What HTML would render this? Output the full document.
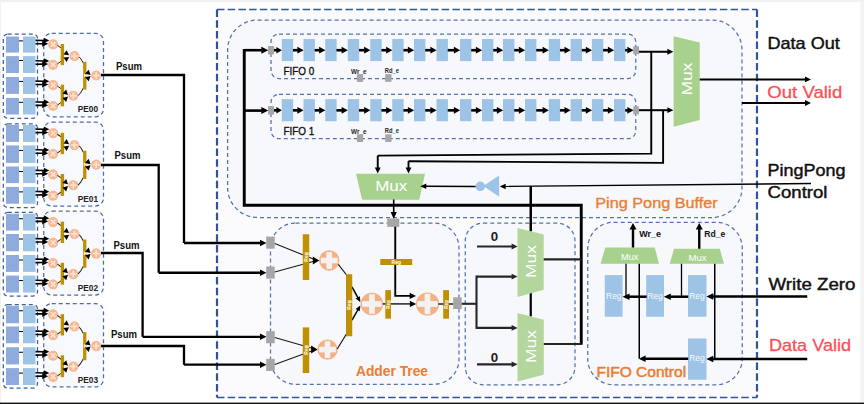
<!DOCTYPE html>
<html><head><meta charset="utf-8"><title>diagram</title>
<style>html,body{margin:0;padding:0;background:#fff;overflow:hidden}svg{display:block}text{font-family:"Liberation Sans",sans-serif}</style>
</head><body>
<svg width="864" height="404" viewBox="0 0 864 404" font-family="Liberation Sans, sans-serif">
<rect x="0" y="0" width="864" height="404" fill="#fff"/>
<rect x="0.00" y="0.00" width="864.00" height="2.20" fill="#f1f1f1" />
<rect x="0.00" y="0.00" width="1.00" height="404.00" fill="#f1f1f1" />
<rect x="860.50" y="0.00" width="3.50" height="404.00" fill="#f3f3f3" />
<rect x="0.00" y="402.60" width="864.00" height="1.40" fill="#111" />
<rect x="217.00" y="9.50" width="540.00" height="388.00" fill="#fbfbfe" />
<path d="M217,9.5 H757 M217,397.5 H757" stroke="#2f5597" stroke-width="1.6" stroke-dasharray="7.5 3.2" fill="none"/>
<path d="M217,9.5 V397.5 M757,9.5 V397.5" stroke="#2f5597" stroke-width="2.2" stroke-dasharray="7.5 3.2" fill="none"/>
<rect x="227.60" y="20.00" width="514.40" height="197.50" rx="30" ry="30" fill="#f7f8fc" stroke="#5472ac" stroke-width="1.25" stroke-dasharray="4 3"/>
<rect x="271.00" y="34.00" width="364.75" height="44.50" rx="8" ry="8" fill="none" stroke="#5472ac" stroke-width="1.25" stroke-dasharray="4 3"/>
<rect x="271.00" y="94.35" width="364.75" height="44.35" rx="8" ry="8" fill="none" stroke="#5472ac" stroke-width="1.25" stroke-dasharray="4 3"/>
<rect x="270.50" y="223.00" width="188.50" height="161.25" rx="25" ry="25" fill="#f7f8fc" stroke="#5472ac" stroke-width="1.25" stroke-dasharray="4 3"/>
<rect x="465.25" y="223.00" width="109.75" height="161.75" rx="18" ry="18" fill="#f7f8fc" stroke="#5472ac" stroke-width="1.25" stroke-dasharray="4 3"/>
<rect x="587.75" y="222.30" width="154.50" height="162.45" rx="26" ry="26" fill="#f7f8fc" stroke="#5472ac" stroke-width="1.25" stroke-dasharray="4 3"/>
<rect x="3.30" y="34.00" width="34.20" height="84.25" rx="4.5" ry="4.5" fill="none" stroke="#3f5f9a" stroke-width="1.25" stroke-dasharray="4 3"/>
<rect x="43.75" y="33.25" width="59.75" height="83.50" rx="8" ry="8" fill="#f8f9fd" stroke="#4a6da7" stroke-width="1.25" stroke-dasharray="4 3"/>
<rect x="6.00" y="36.50" width="13.00" height="16.10" fill="#8faadc" />
<rect x="23.00" y="36.50" width="12.50" height="16.10" fill="#9dc3e6" />
<polyline points="19.00,40.90 23.00,40.90" fill="none" stroke="#000" stroke-width="1" stroke-linejoin="miter" />
<rect x="6.00" y="56.10" width="13.00" height="16.90" fill="#8faadc" />
<rect x="23.00" y="56.10" width="12.50" height="16.90" fill="#9dc3e6" />
<polyline points="19.00,60.50 23.00,60.50" fill="none" stroke="#000" stroke-width="1" stroke-linejoin="miter" />
<rect x="6.00" y="77.00" width="13.00" height="16.90" fill="#8faadc" />
<rect x="23.00" y="77.00" width="12.50" height="16.90" fill="#9dc3e6" />
<polyline points="19.00,81.40 23.00,81.40" fill="none" stroke="#000" stroke-width="1" stroke-linejoin="miter" />
<rect x="6.00" y="97.90" width="13.00" height="16.60" fill="#8faadc" />
<rect x="23.00" y="97.90" width="12.50" height="16.60" fill="#9dc3e6" />
<polyline points="19.00,102.30 23.00,102.30" fill="none" stroke="#000" stroke-width="1" stroke-linejoin="miter" />
<g transform="translate(0 0)">
<polygon points="49.30,40.60 43.76,43.27 43.84,37.77" fill="#000"/>
<polyline points="35.50,40.40 44.30,40.53" fill="none" stroke="#000" stroke-width="1.6" stroke-linejoin="miter" />
<polygon points="48.20,43.70 42.22,46.75 42.18,40.75" fill="#000"/>
<polyline points="35.50,43.80 42.70,43.74" fill="none" stroke="#000" stroke-width="1.6" stroke-linejoin="miter" />
<polygon points="49.30,61.00 43.76,63.67 43.84,58.17" fill="#000"/>
<polyline points="35.50,60.80 44.30,60.93" fill="none" stroke="#000" stroke-width="1.6" stroke-linejoin="miter" />
<polygon points="48.20,64.10 42.22,67.15 42.18,61.15" fill="#000"/>
<polyline points="35.50,64.20 42.70,64.14" fill="none" stroke="#000" stroke-width="1.6" stroke-linejoin="miter" />
<polygon points="49.30,81.30 43.76,83.97 43.84,78.47" fill="#000"/>
<polyline points="35.50,81.10 44.30,81.23" fill="none" stroke="#000" stroke-width="1.6" stroke-linejoin="miter" />
<polygon points="48.20,84.40 42.22,87.45 42.18,81.45" fill="#000"/>
<polyline points="35.50,84.50 42.70,84.44" fill="none" stroke="#000" stroke-width="1.6" stroke-linejoin="miter" />
<polygon points="49.30,102.20 43.76,104.87 43.84,99.37" fill="#000"/>
<polyline points="35.50,102.00 44.30,102.13" fill="none" stroke="#000" stroke-width="1.6" stroke-linejoin="miter" />
<polygon points="48.20,105.30 42.22,108.35 42.18,102.35" fill="#000"/>
<polyline points="35.50,105.40 42.70,105.34" fill="none" stroke="#000" stroke-width="1.6" stroke-linejoin="miter" />
<circle cx="53.10" cy="44.40" r="5.1" fill="#f5ba95"/>
<g transform="rotate(45 53.10 44.40)">
<rect x="49.90" y="43.65" width="6.40" height="1.50" fill="#fbe6d8" />
<rect x="52.35" y="41.20" width="1.50" height="6.40" fill="#fbe6d8" />
</g>
<circle cx="53.10" cy="64.80" r="5.1" fill="#f5ba95"/>
<g transform="rotate(45 53.10 64.80)">
<rect x="49.90" y="64.05" width="6.40" height="1.50" fill="#fbe6d8" />
<rect x="52.35" y="61.60" width="1.50" height="6.40" fill="#fbe6d8" />
</g>
<circle cx="53.10" cy="85.10" r="5.1" fill="#f5ba95"/>
<g transform="rotate(45 53.10 85.10)">
<rect x="49.90" y="84.35" width="6.40" height="1.50" fill="#fbe6d8" />
<rect x="52.35" y="81.90" width="1.50" height="6.40" fill="#fbe6d8" />
</g>
<circle cx="53.10" cy="106.00" r="5.1" fill="#f5ba95"/>
<g transform="rotate(45 53.10 106.00)">
<rect x="49.90" y="105.25" width="6.40" height="1.50" fill="#fbe6d8" />
<rect x="52.35" y="102.80" width="1.50" height="6.40" fill="#fbe6d8" />
</g>
<polyline points="57.50,45.40 61.00,47.90" fill="none" stroke="#222" stroke-width="1" stroke-linejoin="miter" />
<polyline points="57.50,63.80 61.00,61.30" fill="none" stroke="#222" stroke-width="1" stroke-linejoin="miter" />
<rect x="60.70" y="44.00" width="3.40" height="21.10" fill="#bf9000" />
<polygon points="69.10,55.30 63.44,54.59 66.67,50.14" fill="#000"/>
<polygon points="69.10,56.90 66.67,62.06 63.44,57.61" fill="#000"/>
<circle cx="74.40" cy="56.10" r="5.1" fill="#f5ba95"/>
<rect x="71.10" y="55.30" width="6.60" height="1.60" fill="#fbe6d8" />
<rect x="73.60" y="52.80" width="1.60" height="6.60" fill="#fbe6d8" />
<polyline points="57.50,86.10 61.00,88.60" fill="none" stroke="#222" stroke-width="1" stroke-linejoin="miter" />
<polyline points="57.50,105.00 61.00,102.50" fill="none" stroke="#222" stroke-width="1" stroke-linejoin="miter" />
<rect x="60.70" y="84.70" width="3.40" height="21.60" fill="#bf9000" />
<polygon points="68.00,94.95 62.46,93.57 66.20,89.54" fill="#000"/>
<polygon points="68.00,96.55 66.20,101.96 62.46,97.93" fill="#000"/>
<circle cx="73.30" cy="95.75" r="5.1" fill="#f5ba95"/>
<rect x="70.00" y="94.95" width="6.60" height="1.60" fill="#fbe6d8" />
<rect x="72.50" y="92.45" width="1.60" height="6.60" fill="#fbe6d8" />
<polyline points="79.20,57.00 81.00,59.00 83.50,63.50" fill="none" stroke="#222" stroke-width="1" stroke-linejoin="miter" />
<polyline points="78.10,95.70 80.50,93.00 83.50,87.80" fill="none" stroke="#222" stroke-width="1" stroke-linejoin="miter" />
<rect x="83.10" y="61.75" width="3.30" height="27.85" fill="#bf9000" />
<polygon points="90.60,75.00 85.02,73.79 88.63,69.64" fill="#000"/>
<polygon points="90.60,76.00 88.63,81.36 85.02,77.21" fill="#000"/>
<polygon points="83.8,73.2 87,75.4 83.8,77.6" fill="#f2e6c8"/>
<circle cx="96.20" cy="75.50" r="5.1" fill="#f5ba95"/>
<rect x="92.90" y="74.70" width="6.60" height="1.60" fill="#fbe6d8" />
<rect x="95.40" y="72.20" width="1.60" height="6.60" fill="#fbe6d8" />
<text x="77.75" y="112.30" font-size="8.8" fill="#222" font-weight="bold" text-anchor="start" textLength="20.30" lengthAdjust="spacingAndGlyphs" >PE00</text>
</g>
<rect x="3.30" y="123.75" width="34.20" height="83.75" rx="4.5" ry="4.5" fill="none" stroke="#3f5f9a" stroke-width="1.25" stroke-dasharray="4 3"/>
<rect x="43.75" y="122.00" width="59.75" height="84.00" rx="8" ry="8" fill="#f8f9fd" stroke="#4a6da7" stroke-width="1.25" stroke-dasharray="4 3"/>
<rect x="6.00" y="125.00" width="13.00" height="16.90" fill="#8faadc" />
<rect x="23.00" y="125.00" width="12.50" height="16.90" fill="#9dc3e6" />
<polyline points="19.00,130.00 23.00,130.00" fill="none" stroke="#000" stroke-width="1" stroke-linejoin="miter" />
<rect x="6.00" y="145.40" width="13.00" height="17.50" fill="#8faadc" />
<rect x="23.00" y="145.40" width="12.50" height="17.50" fill="#9dc3e6" />
<polyline points="19.00,150.40 23.00,150.40" fill="none" stroke="#000" stroke-width="1" stroke-linejoin="miter" />
<rect x="6.00" y="166.50" width="13.00" height="16.60" fill="#8faadc" />
<rect x="23.00" y="166.50" width="12.50" height="16.60" fill="#9dc3e6" />
<polyline points="19.00,171.50 23.00,171.50" fill="none" stroke="#000" stroke-width="1" stroke-linejoin="miter" />
<rect x="6.00" y="186.90" width="13.00" height="16.85" fill="#8faadc" />
<rect x="23.00" y="186.90" width="12.50" height="16.85" fill="#9dc3e6" />
<polyline points="19.00,191.90 23.00,191.90" fill="none" stroke="#000" stroke-width="1" stroke-linejoin="miter" />
<g transform="translate(0 89.0) translate(0 60) scale(1 1.012) translate(0 -60)">
<polygon points="49.30,40.60 43.76,43.27 43.84,37.77" fill="#000"/>
<polyline points="35.50,40.40 44.30,40.53" fill="none" stroke="#000" stroke-width="1.6" stroke-linejoin="miter" />
<polygon points="48.20,43.70 42.22,46.75 42.18,40.75" fill="#000"/>
<polyline points="35.50,43.80 42.70,43.74" fill="none" stroke="#000" stroke-width="1.6" stroke-linejoin="miter" />
<polygon points="49.30,61.00 43.76,63.67 43.84,58.17" fill="#000"/>
<polyline points="35.50,60.80 44.30,60.93" fill="none" stroke="#000" stroke-width="1.6" stroke-linejoin="miter" />
<polygon points="48.20,64.10 42.22,67.15 42.18,61.15" fill="#000"/>
<polyline points="35.50,64.20 42.70,64.14" fill="none" stroke="#000" stroke-width="1.6" stroke-linejoin="miter" />
<polygon points="49.30,81.30 43.76,83.97 43.84,78.47" fill="#000"/>
<polyline points="35.50,81.10 44.30,81.23" fill="none" stroke="#000" stroke-width="1.6" stroke-linejoin="miter" />
<polygon points="48.20,84.40 42.22,87.45 42.18,81.45" fill="#000"/>
<polyline points="35.50,84.50 42.70,84.44" fill="none" stroke="#000" stroke-width="1.6" stroke-linejoin="miter" />
<polygon points="49.30,102.20 43.76,104.87 43.84,99.37" fill="#000"/>
<polyline points="35.50,102.00 44.30,102.13" fill="none" stroke="#000" stroke-width="1.6" stroke-linejoin="miter" />
<polygon points="48.20,105.30 42.22,108.35 42.18,102.35" fill="#000"/>
<polyline points="35.50,105.40 42.70,105.34" fill="none" stroke="#000" stroke-width="1.6" stroke-linejoin="miter" />
<circle cx="53.10" cy="44.40" r="5.1" fill="#f5ba95"/>
<g transform="rotate(45 53.10 44.40)">
<rect x="49.90" y="43.65" width="6.40" height="1.50" fill="#fbe6d8" />
<rect x="52.35" y="41.20" width="1.50" height="6.40" fill="#fbe6d8" />
</g>
<circle cx="53.10" cy="64.80" r="5.1" fill="#f5ba95"/>
<g transform="rotate(45 53.10 64.80)">
<rect x="49.90" y="64.05" width="6.40" height="1.50" fill="#fbe6d8" />
<rect x="52.35" y="61.60" width="1.50" height="6.40" fill="#fbe6d8" />
</g>
<circle cx="53.10" cy="85.10" r="5.1" fill="#f5ba95"/>
<g transform="rotate(45 53.10 85.10)">
<rect x="49.90" y="84.35" width="6.40" height="1.50" fill="#fbe6d8" />
<rect x="52.35" y="81.90" width="1.50" height="6.40" fill="#fbe6d8" />
</g>
<circle cx="53.10" cy="106.00" r="5.1" fill="#f5ba95"/>
<g transform="rotate(45 53.10 106.00)">
<rect x="49.90" y="105.25" width="6.40" height="1.50" fill="#fbe6d8" />
<rect x="52.35" y="102.80" width="1.50" height="6.40" fill="#fbe6d8" />
</g>
<polyline points="57.50,45.40 61.00,47.90" fill="none" stroke="#222" stroke-width="1" stroke-linejoin="miter" />
<polyline points="57.50,63.80 61.00,61.30" fill="none" stroke="#222" stroke-width="1" stroke-linejoin="miter" />
<rect x="60.70" y="44.00" width="3.40" height="21.10" fill="#bf9000" />
<polygon points="69.10,55.30 63.44,54.59 66.67,50.14" fill="#000"/>
<polygon points="69.10,56.90 66.67,62.06 63.44,57.61" fill="#000"/>
<circle cx="74.40" cy="56.10" r="5.1" fill="#f5ba95"/>
<rect x="71.10" y="55.30" width="6.60" height="1.60" fill="#fbe6d8" />
<rect x="73.60" y="52.80" width="1.60" height="6.60" fill="#fbe6d8" />
<polyline points="57.50,86.10 61.00,88.60" fill="none" stroke="#222" stroke-width="1" stroke-linejoin="miter" />
<polyline points="57.50,105.00 61.00,102.50" fill="none" stroke="#222" stroke-width="1" stroke-linejoin="miter" />
<rect x="60.70" y="84.70" width="3.40" height="21.60" fill="#bf9000" />
<polygon points="68.00,94.95 62.46,93.57 66.20,89.54" fill="#000"/>
<polygon points="68.00,96.55 66.20,101.96 62.46,97.93" fill="#000"/>
<circle cx="73.30" cy="95.75" r="5.1" fill="#f5ba95"/>
<rect x="70.00" y="94.95" width="6.60" height="1.60" fill="#fbe6d8" />
<rect x="72.50" y="92.45" width="1.60" height="6.60" fill="#fbe6d8" />
<polyline points="79.20,57.00 81.00,59.00 83.50,63.50" fill="none" stroke="#222" stroke-width="1" stroke-linejoin="miter" />
<polyline points="78.10,95.70 80.50,93.00 83.50,87.80" fill="none" stroke="#222" stroke-width="1" stroke-linejoin="miter" />
<rect x="83.10" y="61.75" width="3.30" height="27.85" fill="#bf9000" />
<polygon points="90.60,75.00 85.02,73.79 88.63,69.64" fill="#000"/>
<polygon points="90.60,76.00 88.63,81.36 85.02,77.21" fill="#000"/>
<polygon points="83.8,73.2 87,75.4 83.8,77.6" fill="#f2e6c8"/>
<circle cx="96.20" cy="75.50" r="5.1" fill="#f5ba95"/>
<rect x="92.90" y="74.70" width="6.60" height="1.60" fill="#fbe6d8" />
<rect x="95.40" y="72.20" width="1.60" height="6.60" fill="#fbe6d8" />
<text x="77.75" y="112.30" font-size="8.8" fill="#222" font-weight="bold" text-anchor="start" textLength="20.30" lengthAdjust="spacingAndGlyphs" >PE01</text>
</g>
<rect x="3.30" y="212.25" width="34.20" height="83.75" rx="4.5" ry="4.5" fill="none" stroke="#3f5f9a" stroke-width="1.25" stroke-dasharray="4 3"/>
<rect x="43.75" y="211.00" width="59.75" height="84.00" rx="8" ry="8" fill="#f8f9fd" stroke="#4a6da7" stroke-width="1.25" stroke-dasharray="4 3"/>
<rect x="6.00" y="213.75" width="13.00" height="16.85" fill="#8faadc" />
<rect x="23.00" y="213.75" width="12.50" height="16.85" fill="#9dc3e6" />
<polyline points="19.00,218.75 23.00,218.75" fill="none" stroke="#000" stroke-width="1" stroke-linejoin="miter" />
<rect x="6.00" y="234.00" width="13.00" height="17.25" fill="#8faadc" />
<rect x="23.00" y="234.00" width="12.50" height="17.25" fill="#9dc3e6" />
<polyline points="19.00,239.00 23.00,239.00" fill="none" stroke="#000" stroke-width="1" stroke-linejoin="miter" />
<rect x="6.00" y="255.00" width="13.00" height="16.90" fill="#8faadc" />
<rect x="23.00" y="255.00" width="12.50" height="16.90" fill="#9dc3e6" />
<polyline points="19.00,260.00 23.00,260.00" fill="none" stroke="#000" stroke-width="1" stroke-linejoin="miter" />
<rect x="6.00" y="275.60" width="13.00" height="16.90" fill="#8faadc" />
<rect x="23.00" y="275.60" width="12.50" height="16.90" fill="#9dc3e6" />
<polyline points="19.00,280.60 23.00,280.60" fill="none" stroke="#000" stroke-width="1" stroke-linejoin="miter" />
<g transform="translate(0 177.8) translate(0 60) scale(1 1.012) translate(0 -60)">
<polygon points="49.30,40.60 43.76,43.27 43.84,37.77" fill="#000"/>
<polyline points="35.50,40.40 44.30,40.53" fill="none" stroke="#000" stroke-width="1.6" stroke-linejoin="miter" />
<polygon points="48.20,43.70 42.22,46.75 42.18,40.75" fill="#000"/>
<polyline points="35.50,43.80 42.70,43.74" fill="none" stroke="#000" stroke-width="1.6" stroke-linejoin="miter" />
<polygon points="49.30,61.00 43.76,63.67 43.84,58.17" fill="#000"/>
<polyline points="35.50,60.80 44.30,60.93" fill="none" stroke="#000" stroke-width="1.6" stroke-linejoin="miter" />
<polygon points="48.20,64.10 42.22,67.15 42.18,61.15" fill="#000"/>
<polyline points="35.50,64.20 42.70,64.14" fill="none" stroke="#000" stroke-width="1.6" stroke-linejoin="miter" />
<polygon points="49.30,81.30 43.76,83.97 43.84,78.47" fill="#000"/>
<polyline points="35.50,81.10 44.30,81.23" fill="none" stroke="#000" stroke-width="1.6" stroke-linejoin="miter" />
<polygon points="48.20,84.40 42.22,87.45 42.18,81.45" fill="#000"/>
<polyline points="35.50,84.50 42.70,84.44" fill="none" stroke="#000" stroke-width="1.6" stroke-linejoin="miter" />
<polygon points="49.30,102.20 43.76,104.87 43.84,99.37" fill="#000"/>
<polyline points="35.50,102.00 44.30,102.13" fill="none" stroke="#000" stroke-width="1.6" stroke-linejoin="miter" />
<polygon points="48.20,105.30 42.22,108.35 42.18,102.35" fill="#000"/>
<polyline points="35.50,105.40 42.70,105.34" fill="none" stroke="#000" stroke-width="1.6" stroke-linejoin="miter" />
<circle cx="53.10" cy="44.40" r="5.1" fill="#f5ba95"/>
<g transform="rotate(45 53.10 44.40)">
<rect x="49.90" y="43.65" width="6.40" height="1.50" fill="#fbe6d8" />
<rect x="52.35" y="41.20" width="1.50" height="6.40" fill="#fbe6d8" />
</g>
<circle cx="53.10" cy="64.80" r="5.1" fill="#f5ba95"/>
<g transform="rotate(45 53.10 64.80)">
<rect x="49.90" y="64.05" width="6.40" height="1.50" fill="#fbe6d8" />
<rect x="52.35" y="61.60" width="1.50" height="6.40" fill="#fbe6d8" />
</g>
<circle cx="53.10" cy="85.10" r="5.1" fill="#f5ba95"/>
<g transform="rotate(45 53.10 85.10)">
<rect x="49.90" y="84.35" width="6.40" height="1.50" fill="#fbe6d8" />
<rect x="52.35" y="81.90" width="1.50" height="6.40" fill="#fbe6d8" />
</g>
<circle cx="53.10" cy="106.00" r="5.1" fill="#f5ba95"/>
<g transform="rotate(45 53.10 106.00)">
<rect x="49.90" y="105.25" width="6.40" height="1.50" fill="#fbe6d8" />
<rect x="52.35" y="102.80" width="1.50" height="6.40" fill="#fbe6d8" />
</g>
<polyline points="57.50,45.40 61.00,47.90" fill="none" stroke="#222" stroke-width="1" stroke-linejoin="miter" />
<polyline points="57.50,63.80 61.00,61.30" fill="none" stroke="#222" stroke-width="1" stroke-linejoin="miter" />
<rect x="60.70" y="44.00" width="3.40" height="21.10" fill="#bf9000" />
<polygon points="69.10,55.30 63.44,54.59 66.67,50.14" fill="#000"/>
<polygon points="69.10,56.90 66.67,62.06 63.44,57.61" fill="#000"/>
<circle cx="74.40" cy="56.10" r="5.1" fill="#f5ba95"/>
<rect x="71.10" y="55.30" width="6.60" height="1.60" fill="#fbe6d8" />
<rect x="73.60" y="52.80" width="1.60" height="6.60" fill="#fbe6d8" />
<polyline points="57.50,86.10 61.00,88.60" fill="none" stroke="#222" stroke-width="1" stroke-linejoin="miter" />
<polyline points="57.50,105.00 61.00,102.50" fill="none" stroke="#222" stroke-width="1" stroke-linejoin="miter" />
<rect x="60.70" y="84.70" width="3.40" height="21.60" fill="#bf9000" />
<polygon points="68.00,94.95 62.46,93.57 66.20,89.54" fill="#000"/>
<polygon points="68.00,96.55 66.20,101.96 62.46,97.93" fill="#000"/>
<circle cx="73.30" cy="95.75" r="5.1" fill="#f5ba95"/>
<rect x="70.00" y="94.95" width="6.60" height="1.60" fill="#fbe6d8" />
<rect x="72.50" y="92.45" width="1.60" height="6.60" fill="#fbe6d8" />
<polyline points="79.20,57.00 81.00,59.00 83.50,63.50" fill="none" stroke="#222" stroke-width="1" stroke-linejoin="miter" />
<polyline points="78.10,95.70 80.50,93.00 83.50,87.80" fill="none" stroke="#222" stroke-width="1" stroke-linejoin="miter" />
<rect x="83.10" y="61.75" width="3.30" height="27.85" fill="#bf9000" />
<polygon points="90.60,75.00 85.02,73.79 88.63,69.64" fill="#000"/>
<polygon points="90.60,76.00 88.63,81.36 85.02,77.21" fill="#000"/>
<polygon points="83.8,73.2 87,75.4 83.8,77.6" fill="#f2e6c8"/>
<circle cx="96.20" cy="75.50" r="5.1" fill="#f5ba95"/>
<rect x="92.90" y="74.70" width="6.60" height="1.60" fill="#fbe6d8" />
<rect x="95.40" y="72.20" width="1.60" height="6.60" fill="#fbe6d8" />
<text x="77.75" y="112.30" font-size="8.8" fill="#222" font-weight="bold" text-anchor="start" textLength="20.30" lengthAdjust="spacingAndGlyphs" >PE02</text>
</g>
<rect x="3.30" y="304.50" width="34.20" height="83.60" rx="4.5" ry="4.5" fill="none" stroke="#3f5f9a" stroke-width="1.25" stroke-dasharray="4 3"/>
<rect x="43.75" y="303.60" width="59.75" height="83.30" rx="8" ry="8" fill="#f8f9fd" stroke="#4a6da7" stroke-width="1.25" stroke-dasharray="4 3"/>
<rect x="6.00" y="305.75" width="13.00" height="17.50" fill="#8faadc" />
<rect x="23.00" y="305.75" width="12.50" height="17.50" fill="#9dc3e6" />
<polyline points="19.00,310.75 23.00,310.75" fill="none" stroke="#000" stroke-width="1" stroke-linejoin="miter" />
<rect x="6.00" y="326.50" width="13.00" height="16.75" fill="#8faadc" />
<rect x="23.00" y="326.50" width="12.50" height="16.75" fill="#9dc3e6" />
<polyline points="19.00,331.50 23.00,331.50" fill="none" stroke="#000" stroke-width="1" stroke-linejoin="miter" />
<rect x="6.00" y="347.25" width="13.00" height="17.15" fill="#8faadc" />
<rect x="23.00" y="347.25" width="12.50" height="17.15" fill="#9dc3e6" />
<polyline points="19.00,352.25 23.00,352.25" fill="none" stroke="#000" stroke-width="1" stroke-linejoin="miter" />
<rect x="6.00" y="368.10" width="13.00" height="16.90" fill="#8faadc" />
<rect x="23.00" y="368.10" width="12.50" height="16.90" fill="#9dc3e6" />
<polyline points="19.00,373.10 23.00,373.10" fill="none" stroke="#000" stroke-width="1" stroke-linejoin="miter" />
<g transform="translate(0 270.3) translate(0 60) scale(1 1.012) translate(0 -60)">
<polygon points="49.30,40.60 43.76,43.27 43.84,37.77" fill="#000"/>
<polyline points="35.50,40.40 44.30,40.53" fill="none" stroke="#000" stroke-width="1.6" stroke-linejoin="miter" />
<polygon points="48.20,43.70 42.22,46.75 42.18,40.75" fill="#000"/>
<polyline points="35.50,43.80 42.70,43.74" fill="none" stroke="#000" stroke-width="1.6" stroke-linejoin="miter" />
<polygon points="49.30,61.00 43.76,63.67 43.84,58.17" fill="#000"/>
<polyline points="35.50,60.80 44.30,60.93" fill="none" stroke="#000" stroke-width="1.6" stroke-linejoin="miter" />
<polygon points="48.20,64.10 42.22,67.15 42.18,61.15" fill="#000"/>
<polyline points="35.50,64.20 42.70,64.14" fill="none" stroke="#000" stroke-width="1.6" stroke-linejoin="miter" />
<polygon points="49.30,81.30 43.76,83.97 43.84,78.47" fill="#000"/>
<polyline points="35.50,81.10 44.30,81.23" fill="none" stroke="#000" stroke-width="1.6" stroke-linejoin="miter" />
<polygon points="48.20,84.40 42.22,87.45 42.18,81.45" fill="#000"/>
<polyline points="35.50,84.50 42.70,84.44" fill="none" stroke="#000" stroke-width="1.6" stroke-linejoin="miter" />
<polygon points="49.30,102.20 43.76,104.87 43.84,99.37" fill="#000"/>
<polyline points="35.50,102.00 44.30,102.13" fill="none" stroke="#000" stroke-width="1.6" stroke-linejoin="miter" />
<polygon points="48.20,105.30 42.22,108.35 42.18,102.35" fill="#000"/>
<polyline points="35.50,105.40 42.70,105.34" fill="none" stroke="#000" stroke-width="1.6" stroke-linejoin="miter" />
<circle cx="53.10" cy="44.40" r="5.1" fill="#f5ba95"/>
<g transform="rotate(45 53.10 44.40)">
<rect x="49.90" y="43.65" width="6.40" height="1.50" fill="#fbe6d8" />
<rect x="52.35" y="41.20" width="1.50" height="6.40" fill="#fbe6d8" />
</g>
<circle cx="53.10" cy="64.80" r="5.1" fill="#f5ba95"/>
<g transform="rotate(45 53.10 64.80)">
<rect x="49.90" y="64.05" width="6.40" height="1.50" fill="#fbe6d8" />
<rect x="52.35" y="61.60" width="1.50" height="6.40" fill="#fbe6d8" />
</g>
<circle cx="53.10" cy="85.10" r="5.1" fill="#f5ba95"/>
<g transform="rotate(45 53.10 85.10)">
<rect x="49.90" y="84.35" width="6.40" height="1.50" fill="#fbe6d8" />
<rect x="52.35" y="81.90" width="1.50" height="6.40" fill="#fbe6d8" />
</g>
<circle cx="53.10" cy="106.00" r="5.1" fill="#f5ba95"/>
<g transform="rotate(45 53.10 106.00)">
<rect x="49.90" y="105.25" width="6.40" height="1.50" fill="#fbe6d8" />
<rect x="52.35" y="102.80" width="1.50" height="6.40" fill="#fbe6d8" />
</g>
<polyline points="57.50,45.40 61.00,47.90" fill="none" stroke="#222" stroke-width="1" stroke-linejoin="miter" />
<polyline points="57.50,63.80 61.00,61.30" fill="none" stroke="#222" stroke-width="1" stroke-linejoin="miter" />
<rect x="60.70" y="44.00" width="3.40" height="21.10" fill="#bf9000" />
<polygon points="69.10,55.30 63.44,54.59 66.67,50.14" fill="#000"/>
<polygon points="69.10,56.90 66.67,62.06 63.44,57.61" fill="#000"/>
<circle cx="74.40" cy="56.10" r="5.1" fill="#f5ba95"/>
<rect x="71.10" y="55.30" width="6.60" height="1.60" fill="#fbe6d8" />
<rect x="73.60" y="52.80" width="1.60" height="6.60" fill="#fbe6d8" />
<polyline points="57.50,86.10 61.00,88.60" fill="none" stroke="#222" stroke-width="1" stroke-linejoin="miter" />
<polyline points="57.50,105.00 61.00,102.50" fill="none" stroke="#222" stroke-width="1" stroke-linejoin="miter" />
<rect x="60.70" y="84.70" width="3.40" height="21.60" fill="#bf9000" />
<polygon points="68.00,94.95 62.46,93.57 66.20,89.54" fill="#000"/>
<polygon points="68.00,96.55 66.20,101.96 62.46,97.93" fill="#000"/>
<circle cx="73.30" cy="95.75" r="5.1" fill="#f5ba95"/>
<rect x="70.00" y="94.95" width="6.60" height="1.60" fill="#fbe6d8" />
<rect x="72.50" y="92.45" width="1.60" height="6.60" fill="#fbe6d8" />
<polyline points="79.20,57.00 81.00,59.00 83.50,63.50" fill="none" stroke="#222" stroke-width="1" stroke-linejoin="miter" />
<polyline points="78.10,95.70 80.50,93.00 83.50,87.80" fill="none" stroke="#222" stroke-width="1" stroke-linejoin="miter" />
<rect x="83.10" y="61.75" width="3.30" height="27.85" fill="#bf9000" />
<polygon points="90.60,75.00 85.02,73.79 88.63,69.64" fill="#000"/>
<polygon points="90.60,76.00 88.63,81.36 85.02,77.21" fill="#000"/>
<polygon points="83.8,73.2 87,75.4 83.8,77.6" fill="#f2e6c8"/>
<circle cx="96.20" cy="75.50" r="5.1" fill="#f5ba95"/>
<rect x="92.90" y="74.70" width="6.60" height="1.60" fill="#fbe6d8" />
<rect x="95.40" y="72.20" width="1.60" height="6.60" fill="#fbe6d8" />
<text x="77.75" y="112.30" font-size="8.8" fill="#222" font-weight="bold" text-anchor="start" textLength="20.30" lengthAdjust="spacingAndGlyphs" >PE03</text>
</g>
<polyline points="101.00,75.00 184.00,75.00 184.00,243.00" fill="none" stroke="#000" stroke-width="2.3" stroke-linejoin="miter" />
<polygon points="266.50,243.00 260.00,246.25 260.00,239.75" fill="#000"/>
<polyline points="184.00,243.00 260.50,243.00" fill="none" stroke="#000" stroke-width="2.3" stroke-linejoin="miter" />
<polyline points="101.00,165.00 158.70,165.00 158.70,272.75" fill="none" stroke="#000" stroke-width="2.3" stroke-linejoin="miter" />
<polygon points="266.50,272.75 260.00,276.00 260.00,269.50" fill="#000"/>
<polyline points="158.70,272.75 260.50,272.75" fill="none" stroke="#000" stroke-width="2.3" stroke-linejoin="miter" />
<polyline points="101.00,253.00 142.60,253.00 142.60,336.80" fill="none" stroke="#000" stroke-width="2.3" stroke-linejoin="miter" />
<polygon points="266.50,336.80 260.00,340.05 260.00,333.55" fill="#000"/>
<polyline points="142.60,336.80 260.50,336.80" fill="none" stroke="#000" stroke-width="2.3" stroke-linejoin="miter" />
<polyline points="101.00,346.00 184.00,346.00 184.00,364.70" fill="none" stroke="#000" stroke-width="2.3" stroke-linejoin="miter" />
<polygon points="266.50,364.70 260.00,367.95 260.00,361.45" fill="#000"/>
<polyline points="184.00,364.70 260.50,364.70" fill="none" stroke="#000" stroke-width="2.3" stroke-linejoin="miter" />
<text x="116.00" y="69.80" font-size="10.6" fill="#111" font-weight="bold" text-anchor="start" textLength="26.00" lengthAdjust="spacingAndGlyphs" >Psum</text>
<text x="114.50" y="159.30" font-size="10.6" fill="#111" font-weight="bold" text-anchor="start" textLength="26.00" lengthAdjust="spacingAndGlyphs" >Psum</text>
<text x="113.50" y="248.50" font-size="10.6" fill="#111" font-weight="bold" text-anchor="start" textLength="26.00" lengthAdjust="spacingAndGlyphs" >Psum</text>
<text x="111.00" y="337.80" font-size="10.6" fill="#111" font-weight="bold" text-anchor="start" textLength="26.00" lengthAdjust="spacingAndGlyphs" >Psum</text>
<polyline points="581.25,344.70 581.25,205.30 244.25,205.30 244.25,49.00" fill="none" stroke="#000" stroke-width="2.9" stroke-linejoin="miter" />
<polygon points="268.30,50.20 261.30,53.70 261.30,46.70" fill="#000"/>
<polyline points="244.25,50.20 261.80,50.20" fill="none" stroke="#000" stroke-width="2.6" stroke-linejoin="miter" />
<polygon points="268.30,110.60 261.30,114.10 261.30,107.10" fill="#000"/>
<polyline points="244.25,110.60 261.80,110.60" fill="none" stroke="#000" stroke-width="2.6" stroke-linejoin="miter" />
<rect x="268.00" y="46.00" width="6.00" height="8.50" fill="#a6a6a6" />
<rect x="633.25" y="46.25" width="5.75" height="8.00" fill="#a6a6a6" />
<polygon points="281.90,50.20 276.40,53.45 276.40,46.95" fill="#000"/>
<polyline points="274.00,50.20 276.90,50.20" fill="none" stroke="#000" stroke-width="2.6" stroke-linejoin="miter" />
<rect x="281.75" y="39.00" width="11.40" height="22.10" fill="#9dc3e6" />
<polygon points="303.70,50.20 297.40,53.60 297.40,46.80" fill="#000"/>
<polyline points="292.95,50.20 297.90,50.20" fill="none" stroke="#000" stroke-width="2.6" stroke-linejoin="miter" />
<rect x="303.50" y="39.00" width="11.40" height="22.10" fill="#9dc3e6" />
<polygon points="325.45,50.20 319.15,53.60 319.15,46.80" fill="#000"/>
<polyline points="314.70,50.20 319.65,50.20" fill="none" stroke="#000" stroke-width="2.6" stroke-linejoin="miter" />
<rect x="325.25" y="39.00" width="11.40" height="22.10" fill="#9dc3e6" />
<polygon points="347.95,50.20 341.65,53.60 341.65,46.80" fill="#000"/>
<polyline points="336.45,50.20 342.15,50.20" fill="none" stroke="#000" stroke-width="2.6" stroke-linejoin="miter" />
<rect x="347.75" y="39.00" width="11.40" height="22.10" fill="#9dc3e6" />
<polygon points="370.45,50.20 364.15,53.60 364.15,46.80" fill="#000"/>
<polyline points="358.95,50.20 364.65,50.20" fill="none" stroke="#000" stroke-width="2.6" stroke-linejoin="miter" />
<rect x="370.25" y="39.00" width="11.40" height="22.10" fill="#9dc3e6" />
<polygon points="392.45,50.20 386.15,53.60 386.15,46.80" fill="#000"/>
<polyline points="381.45,50.20 386.65,50.20" fill="none" stroke="#000" stroke-width="2.6" stroke-linejoin="miter" />
<rect x="392.25" y="39.00" width="11.40" height="22.10" fill="#9dc3e6" />
<polygon points="414.20,50.20 407.90,53.60 407.90,46.80" fill="#000"/>
<polyline points="403.45,50.20 408.40,50.20" fill="none" stroke="#000" stroke-width="2.6" stroke-linejoin="miter" />
<rect x="414.00" y="39.00" width="11.40" height="22.10" fill="#9dc3e6" />
<polygon points="436.70,50.20 430.40,53.60 430.40,46.80" fill="#000"/>
<polyline points="425.20,50.20 430.90,50.20" fill="none" stroke="#000" stroke-width="2.6" stroke-linejoin="miter" />
<rect x="436.50" y="39.00" width="11.40" height="22.10" fill="#9dc3e6" />
<polygon points="460.20,50.20 453.90,53.60 453.90,46.80" fill="#000"/>
<polyline points="447.70,50.20 454.40,50.20" fill="none" stroke="#000" stroke-width="2.6" stroke-linejoin="miter" />
<rect x="460.00" y="39.00" width="11.40" height="22.10" fill="#9dc3e6" />
<polygon points="482.20,50.20 475.90,53.60 475.90,46.80" fill="#000"/>
<polyline points="471.20,50.20 476.40,50.20" fill="none" stroke="#000" stroke-width="2.6" stroke-linejoin="miter" />
<rect x="482.00" y="39.00" width="11.40" height="22.10" fill="#9dc3e6" />
<polygon points="503.20,50.20 496.90,53.60 496.90,46.80" fill="#000"/>
<polyline points="493.20,50.20 497.40,50.20" fill="none" stroke="#000" stroke-width="2.6" stroke-linejoin="miter" />
<rect x="503.00" y="39.00" width="11.40" height="22.10" fill="#9dc3e6" />
<polygon points="525.20,50.20 518.90,53.60 518.90,46.80" fill="#000"/>
<polyline points="514.20,50.20 519.40,50.20" fill="none" stroke="#000" stroke-width="2.6" stroke-linejoin="miter" />
<rect x="525.00" y="39.00" width="11.40" height="22.10" fill="#9dc3e6" />
<polygon points="548.95,50.20 542.65,53.60 542.65,46.80" fill="#000"/>
<polyline points="536.20,50.20 543.15,50.20" fill="none" stroke="#000" stroke-width="2.6" stroke-linejoin="miter" />
<rect x="548.75" y="39.00" width="11.40" height="22.10" fill="#9dc3e6" />
<polygon points="570.80,50.20 564.50,53.60 564.50,46.80" fill="#000"/>
<polyline points="559.95,50.20 565.00,50.20" fill="none" stroke="#000" stroke-width="2.6" stroke-linejoin="miter" />
<rect x="570.60" y="39.00" width="11.40" height="22.10" fill="#9dc3e6" />
<polygon points="592.10,50.20 585.80,53.60 585.80,46.80" fill="#000"/>
<polyline points="581.80,50.20 586.30,50.20" fill="none" stroke="#000" stroke-width="2.6" stroke-linejoin="miter" />
<rect x="591.90" y="39.00" width="11.40" height="22.10" fill="#9dc3e6" />
<polygon points="614.20,50.20 607.90,53.60 607.90,46.80" fill="#000"/>
<polyline points="603.10,50.20 608.40,50.20" fill="none" stroke="#000" stroke-width="2.6" stroke-linejoin="miter" />
<rect x="614.00" y="39.00" width="11.40" height="22.10" fill="#9dc3e6" />
<polygon points="633.60,50.20 627.30,53.60 627.30,46.80" fill="#000"/>
<polyline points="625.20,50.20 627.80,50.20" fill="none" stroke="#000" stroke-width="2.6" stroke-linejoin="miter" />
<text x="283.40" y="75.00" font-size="11.6" fill="#111" font-weight="normal" text-anchor="start" textLength="30.90" lengthAdjust="spacingAndGlyphs"  stroke="#111" stroke-width="0.35" stroke-linejoin="round">FIFO 0</text>
<text x="351.00" y="74.10" font-size="6.6" fill="#2a2a2a" font-weight="bold" text-anchor="start" textLength="15.50" lengthAdjust="spacingAndGlyphs" >Wr_e</text>
<text x="384.75" y="73.30" font-size="6.6" fill="#2a2a2a" font-weight="bold" text-anchor="start" textLength="14.20" lengthAdjust="spacingAndGlyphs" >Rd_e</text>
<rect x="356.90" y="74.20" width="6.20" height="7.65" fill="#a6a6a6" />
<rect x="385.25" y="74.20" width="6.25" height="7.65" fill="#a6a6a6" />
<rect x="268.00" y="106.15" width="6.00" height="8.50" fill="#a6a6a6" />
<rect x="633.25" y="106.40" width="5.75" height="8.00" fill="#a6a6a6" />
<polygon points="281.90,110.35 276.40,113.60 276.40,107.10" fill="#000"/>
<polyline points="274.00,110.35 276.90,110.35" fill="none" stroke="#000" stroke-width="2.6" stroke-linejoin="miter" />
<rect x="281.75" y="99.15" width="11.40" height="22.10" fill="#9dc3e6" />
<polygon points="303.70,110.35 297.40,113.75 297.40,106.95" fill="#000"/>
<polyline points="292.95,110.35 297.90,110.35" fill="none" stroke="#000" stroke-width="2.6" stroke-linejoin="miter" />
<rect x="303.50" y="99.15" width="11.40" height="22.10" fill="#9dc3e6" />
<polygon points="325.45,110.35 319.15,113.75 319.15,106.95" fill="#000"/>
<polyline points="314.70,110.35 319.65,110.35" fill="none" stroke="#000" stroke-width="2.6" stroke-linejoin="miter" />
<rect x="325.25" y="99.15" width="11.40" height="22.10" fill="#9dc3e6" />
<polygon points="347.95,110.35 341.65,113.75 341.65,106.95" fill="#000"/>
<polyline points="336.45,110.35 342.15,110.35" fill="none" stroke="#000" stroke-width="2.6" stroke-linejoin="miter" />
<rect x="347.75" y="99.15" width="11.40" height="22.10" fill="#9dc3e6" />
<polygon points="370.45,110.35 364.15,113.75 364.15,106.95" fill="#000"/>
<polyline points="358.95,110.35 364.65,110.35" fill="none" stroke="#000" stroke-width="2.6" stroke-linejoin="miter" />
<rect x="370.25" y="99.15" width="11.40" height="22.10" fill="#9dc3e6" />
<polygon points="392.45,110.35 386.15,113.75 386.15,106.95" fill="#000"/>
<polyline points="381.45,110.35 386.65,110.35" fill="none" stroke="#000" stroke-width="2.6" stroke-linejoin="miter" />
<rect x="392.25" y="99.15" width="11.40" height="22.10" fill="#9dc3e6" />
<polygon points="414.20,110.35 407.90,113.75 407.90,106.95" fill="#000"/>
<polyline points="403.45,110.35 408.40,110.35" fill="none" stroke="#000" stroke-width="2.6" stroke-linejoin="miter" />
<rect x="414.00" y="99.15" width="11.40" height="22.10" fill="#9dc3e6" />
<polygon points="436.70,110.35 430.40,113.75 430.40,106.95" fill="#000"/>
<polyline points="425.20,110.35 430.90,110.35" fill="none" stroke="#000" stroke-width="2.6" stroke-linejoin="miter" />
<rect x="436.50" y="99.15" width="11.40" height="22.10" fill="#9dc3e6" />
<polygon points="460.20,110.35 453.90,113.75 453.90,106.95" fill="#000"/>
<polyline points="447.70,110.35 454.40,110.35" fill="none" stroke="#000" stroke-width="2.6" stroke-linejoin="miter" />
<rect x="460.00" y="99.15" width="11.40" height="22.10" fill="#9dc3e6" />
<polygon points="482.20,110.35 475.90,113.75 475.90,106.95" fill="#000"/>
<polyline points="471.20,110.35 476.40,110.35" fill="none" stroke="#000" stroke-width="2.6" stroke-linejoin="miter" />
<rect x="482.00" y="99.15" width="11.40" height="22.10" fill="#9dc3e6" />
<polygon points="503.20,110.35 496.90,113.75 496.90,106.95" fill="#000"/>
<polyline points="493.20,110.35 497.40,110.35" fill="none" stroke="#000" stroke-width="2.6" stroke-linejoin="miter" />
<rect x="503.00" y="99.15" width="11.40" height="22.10" fill="#9dc3e6" />
<polygon points="525.20,110.35 518.90,113.75 518.90,106.95" fill="#000"/>
<polyline points="514.20,110.35 519.40,110.35" fill="none" stroke="#000" stroke-width="2.6" stroke-linejoin="miter" />
<rect x="525.00" y="99.15" width="11.40" height="22.10" fill="#9dc3e6" />
<polygon points="548.95,110.35 542.65,113.75 542.65,106.95" fill="#000"/>
<polyline points="536.20,110.35 543.15,110.35" fill="none" stroke="#000" stroke-width="2.6" stroke-linejoin="miter" />
<rect x="548.75" y="99.15" width="11.40" height="22.10" fill="#9dc3e6" />
<polygon points="570.80,110.35 564.50,113.75 564.50,106.95" fill="#000"/>
<polyline points="559.95,110.35 565.00,110.35" fill="none" stroke="#000" stroke-width="2.6" stroke-linejoin="miter" />
<rect x="570.60" y="99.15" width="11.40" height="22.10" fill="#9dc3e6" />
<polygon points="592.10,110.35 585.80,113.75 585.80,106.95" fill="#000"/>
<polyline points="581.80,110.35 586.30,110.35" fill="none" stroke="#000" stroke-width="2.6" stroke-linejoin="miter" />
<rect x="591.90" y="99.15" width="11.40" height="22.10" fill="#9dc3e6" />
<polygon points="614.20,110.35 607.90,113.75 607.90,106.95" fill="#000"/>
<polyline points="603.10,110.35 608.40,110.35" fill="none" stroke="#000" stroke-width="2.6" stroke-linejoin="miter" />
<rect x="614.00" y="99.15" width="11.40" height="22.10" fill="#9dc3e6" />
<polygon points="633.60,110.35 627.30,113.75 627.30,106.95" fill="#000"/>
<polyline points="625.20,110.35 627.80,110.35" fill="none" stroke="#000" stroke-width="2.6" stroke-linejoin="miter" />
<text x="283.40" y="135.15" font-size="11.6" fill="#111" font-weight="normal" text-anchor="start" textLength="30.90" lengthAdjust="spacingAndGlyphs"  stroke="#111" stroke-width="0.35" stroke-linejoin="round">FIFO 1</text>
<text x="351.00" y="134.25" font-size="6.6" fill="#2a2a2a" font-weight="bold" text-anchor="start" textLength="15.50" lengthAdjust="spacingAndGlyphs" >Wr_e</text>
<text x="384.75" y="133.45" font-size="6.6" fill="#2a2a2a" font-weight="bold" text-anchor="start" textLength="14.20" lengthAdjust="spacingAndGlyphs" >Rd_e</text>
<rect x="356.90" y="134.35" width="6.20" height="7.65" fill="#a6a6a6" />
<rect x="385.25" y="134.35" width="6.25" height="7.65" fill="#a6a6a6" />
<polygon points="673.40,51.75 667.40,54.65 667.40,48.85" fill="#000"/>
<polyline points="639.00,51.75 667.90,51.75" fill="none" stroke="#000" stroke-width="2" stroke-linejoin="miter" />
<polygon points="673.40,110.20 667.40,113.10 667.40,107.30" fill="#000"/>
<polyline points="639.00,110.20 667.90,110.20" fill="none" stroke="#000" stroke-width="2" stroke-linejoin="miter" />
<polyline points="651.25,51.75 651.25,153.60 377.75,155.60" fill="none" stroke="#000" stroke-width="1.9" stroke-linejoin="miter" />
<polygon points="377.75,173.50 374.85,167.50 380.65,167.50" fill="#000"/>
<polyline points="377.75,155.60 377.75,168.00" fill="none" stroke="#000" stroke-width="1.9" stroke-linejoin="miter" />
<polyline points="663.10,110.20 663.10,162.90 408.50,161.20" fill="none" stroke="#000" stroke-width="1.9" stroke-linejoin="miter" />
<polygon points="408.50,173.50 405.60,167.50 411.40,167.50" fill="#000"/>
<polyline points="408.50,161.20 408.50,168.00" fill="none" stroke="#000" stroke-width="1.9" stroke-linejoin="miter" />
<polygon points="673.6,36.25 699.75,42.5 699.75,120 673.6,126.75" fill="#a9d18e"/>
<text x="0.00" y="0.00" font-size="15.4" fill="#fff" font-weight="normal" text-anchor="middle" textLength="33.00" lengthAdjust="spacingAndGlyphs" transform="translate(691.8 79) rotate(-90)">Mux</text>
<polygon points="811.00,79.40 805.00,82.30 805.00,76.50" fill="#000"/>
<polyline points="699.75,79.40 805.50,79.40" fill="none" stroke="#000" stroke-width="2" stroke-linejoin="miter" />
<polygon points="811.00,103.00 805.00,105.90 805.00,100.10" fill="#000"/>
<polyline points="742.00,103.00 805.50,103.00" fill="none" stroke="#000" stroke-width="2" stroke-linejoin="miter" />
<polygon points="356,173.7 425,173.7 419.3,199.7 362.1,199.7" fill="#a9d18e"/>
<text x="375.25" y="191.30" font-size="15" fill="#fff" font-weight="normal" text-anchor="start" textLength="32.00" lengthAdjust="spacingAndGlyphs" >Mux</text>
<polygon points="393.70,219.00 390.60,212.00 396.80,212.00" fill="#000"/>
<polyline points="393.70,199.50 393.70,212.50" fill="none" stroke="#000" stroke-width="1.6" stroke-linejoin="miter" />
<rect x="387.20" y="218.50" width="12.10" height="8.40" fill="#a6a6a6" />
<polygon points="499.70,186.50 505.67,183.69 505.73,189.19" fill="#000"/>
<polyline points="811.00,183.50 505.20,186.45" fill="none" stroke="#000" stroke-width="1.35" stroke-linejoin="miter" />
<polygon points="499.1,175.5 499.1,196.7 483.3,186.1" fill="#9dc3e6"/>
<circle cx="480.3" cy="186.3" r="4.8" fill="#9dc3e6"/>
<polygon points="420.30,186.20 426.32,183.49 426.28,188.99" fill="#000"/>
<polyline points="475.60,186.60 425.80,186.24" fill="none" stroke="#000" stroke-width="1.5" stroke-linejoin="miter" />
<polyline points="530.75,186.30 530.75,231.50" fill="none" stroke="#000" stroke-width="2.5" stroke-linejoin="miter" />
<polyline points="530.75,292.50 530.75,316.50" fill="none" stroke="#000" stroke-width="2.2" stroke-linejoin="miter" />
<rect x="266.20" y="236.55" width="8.55" height="12.10" fill="#a6a6a6" />
<rect x="266.20" y="266.55" width="8.55" height="12.10" fill="#a6a6a6" />
<rect x="266.20" y="331.15" width="8.55" height="12.10" fill="#a6a6a6" />
<rect x="266.20" y="358.85" width="8.55" height="12.10" fill="#a6a6a6" />
<polyline points="274.75,243.50 314.00,259.30" fill="none" stroke="#1a1a1a" stroke-width="1.1" stroke-linejoin="miter" />
<polyline points="274.75,272.00 314.00,261.30" fill="none" stroke="#1a1a1a" stroke-width="1.1" stroke-linejoin="miter" />
<polyline points="274.75,337.50 313.00,348.50" fill="none" stroke="#1a1a1a" stroke-width="1.1" stroke-linejoin="miter" />
<polyline points="274.75,364.50 313.00,350.50" fill="none" stroke="#1a1a1a" stroke-width="1.1" stroke-linejoin="miter" />
<rect x="302.75" y="234.25" width="6.50" height="45.75" fill="#bf9000" />
<rect x="302.75" y="327.40" width="6.50" height="45.60" fill="#bf9000" />
<polygon points="319.30,260.40 312.80,264.40 312.80,256.40" fill="#000"/>
<polygon points="317.60,349.60 311.10,353.60 311.10,345.60" fill="#000"/>
<circle cx="329.25" cy="260.50" r="10.2" fill="#f4b183"/>
<rect x="320.85" y="257.70" width="16.80" height="5.60" fill="#f2f2f2" />
<rect x="326.45" y="252.10" width="5.60" height="16.80" fill="#f2f2f2" />
<circle cx="327.50" cy="349.60" r="10.2" fill="#f4b183"/>
<rect x="319.10" y="346.80" width="16.80" height="5.60" fill="#f2f2f2" />
<rect x="324.70" y="341.20" width="5.60" height="16.80" fill="#f2f2f2" />
<polyline points="338.30,264.30 347.00,275.50" fill="none" stroke="#1a1a1a" stroke-width="1.2" stroke-linejoin="miter" />
<polygon points="360.40,302.20 355.65,298.53 359.86,296.22" fill="#000"/>
<polyline points="352.00,286.90 357.99,297.82" fill="none" stroke="#000" stroke-width="1.5" stroke-linejoin="miter" />
<polyline points="337.25,349.00 347.00,333.00" fill="none" stroke="#1a1a1a" stroke-width="1.2" stroke-linejoin="miter" />
<polygon points="360.40,305.40 359.77,311.37 355.60,309.00" fill="#000"/>
<polyline points="352.00,320.20 357.93,309.75" fill="none" stroke="#000" stroke-width="1.5" stroke-linejoin="miter" />
<rect x="346.00" y="274.25" width="6.25" height="62.00" fill="#bf9000" />
<circle cx="371.90" cy="304.00" r="11.3" fill="#f4b183"/>
<rect x="362.10" y="301.15" width="19.60" height="5.70" fill="#f2f2f2" />
<rect x="369.05" y="294.20" width="5.70" height="19.60" fill="#f2f2f2" />
<polyline points="382.80,303.90 410.00,303.90" fill="none" stroke="#222" stroke-width="1.5" stroke-linejoin="miter" />
<polygon points="416.20,303.90 409.90,307.05 409.90,300.75" fill="#000"/>
<rect x="385.30" y="290.10" width="5.70" height="28.60" fill="#bf9000" />
<polyline points="395.25,226.75 395.25,295.90 410.00,295.90" fill="none" stroke="#000" stroke-width="1.9" stroke-linejoin="miter" />
<polygon points="416.00,295.90 409.70,299.05 409.70,292.75" fill="#000"/>
<rect x="380.30" y="259.00" width="31.90" height="6.00" fill="#bf9000" />
<circle cx="427.50" cy="304.00" r="11.6" fill="#f4b183"/>
<rect x="417.30" y="301.15" width="20.40" height="5.70" fill="#f2f2f2" />
<rect x="424.65" y="293.80" width="5.70" height="20.40" fill="#f2f2f2" />
<polyline points="438.40,304.00 453.50,304.00" fill="none" stroke="#111" stroke-width="1.4" stroke-linejoin="miter" />
<rect x="443.20" y="290.10" width="5.80" height="28.60" fill="#bf9000" />
<rect x="453.20" y="297.30" width="8.50" height="11.70" fill="#a6a6a6" />
<text x="0.00" y="0.00" font-size="5" fill="#fff" font-weight="bold" text-anchor="middle" transform="translate(307.8 257) rotate(-90)">Reg</text>
<text x="0.00" y="0.00" font-size="5" fill="#fff" font-weight="bold" text-anchor="middle" transform="translate(307.8 350) rotate(-90)">Reg</text>
<text x="0.00" y="0.00" font-size="5" fill="#fff" font-weight="bold" text-anchor="middle" transform="translate(351 305) rotate(-90)">Reg</text>
<text x="0.00" y="0.00" font-size="4.6" fill="#fff" font-weight="bold" text-anchor="middle" transform="translate(389.8 304.5) rotate(-90)">Reg</text>
<text x="0.00" y="0.00" font-size="4.6" fill="#fff" font-weight="bold" text-anchor="middle" transform="translate(448 304.5) rotate(-90)">Reg</text>
<text x="396.30" y="264.00" font-size="5" fill="#fff" font-weight="bold" text-anchor="middle" >Reg</text>
<text x="356.00" y="376.10" font-size="14.2" fill="#ed7d31" font-weight="bold" text-anchor="start" textLength="72.00" lengthAdjust="spacingAndGlyphs" >Adder Tree</text>
<polyline points="461.70,303.80 476.50,303.80" fill="none" stroke="#262626" stroke-width="2.1" stroke-linejoin="miter" />
<polyline points="476.50,275.60 476.50,328.90" fill="none" stroke="#262626" stroke-width="2.1" stroke-linejoin="miter" />
<polygon points="517.60,276.60 511.60,279.50 511.60,273.70" fill="#262626"/>
<polyline points="476.50,276.60 512.10,276.60" fill="none" stroke="#262626" stroke-width="2.2" stroke-linejoin="miter" />
<polygon points="517.60,327.90 511.60,330.80 511.60,325.00" fill="#262626"/>
<polyline points="476.50,327.90 512.10,327.90" fill="none" stroke="#262626" stroke-width="2.2" stroke-linejoin="miter" />
<polygon points="517.60,246.50 511.60,249.40 511.60,243.60" fill="#262626"/>
<polyline points="477.00,246.50 512.10,246.50" fill="none" stroke="#262626" stroke-width="2.2" stroke-linejoin="miter" />
<polygon points="517.60,364.30 511.60,367.20 511.60,361.40" fill="#262626"/>
<polyline points="477.00,364.30 512.10,364.30" fill="none" stroke="#262626" stroke-width="2.2" stroke-linejoin="miter" />
<text x="490.80" y="241.30" font-size="12" fill="#222" font-weight="bold" text-anchor="start" textLength="7.40" lengthAdjust="spacingAndGlyphs" >0</text>
<text x="490.80" y="362.20" font-size="12" fill="#222" font-weight="bold" text-anchor="start" textLength="7.40" lengthAdjust="spacingAndGlyphs" >0</text>
<polygon points="517.5,228 543.7,234.5 543.7,289.7 517.5,296.9" fill="#b3d69d"/>
<polygon points="517.5,313 543.8,319.7 543.8,374.8 517.5,381.6" fill="#b3d69d"/>
<text x="0.00" y="0.00" font-size="15.4" fill="#fff" font-weight="normal" text-anchor="middle" textLength="33.00" lengthAdjust="spacingAndGlyphs" transform="translate(535.8 261.5) rotate(-90)">Mux</text>
<text x="0.00" y="0.00" font-size="15.4" fill="#fff" font-weight="normal" text-anchor="middle" textLength="33.00" lengthAdjust="spacingAndGlyphs" transform="translate(535.9 346.5) rotate(-90)">Mux</text>
<polyline points="543.70,259.40 581.25,259.40" fill="none" stroke="#262626" stroke-width="2.2" stroke-linejoin="miter" />
<polyline points="543.80,344.00 581.25,344.00" fill="none" stroke="#262626" stroke-width="2.2" stroke-linejoin="miter" />
<rect x="604.80" y="275.10" width="17.80" height="41.65" fill="#9dc3e6" />
<rect x="646.20" y="275.10" width="17.80" height="41.65" fill="#9dc3e6" />
<rect x="688.00" y="275.10" width="18.50" height="41.65" fill="#9dc3e6" />
<rect x="688.00" y="338.50" width="18.50" height="41.25" fill="#9dc3e6" />
<polygon points="605.2,247.5 654.75,247.5 659,263.75 600.5,263.75" fill="#a9d18e"/>
<polygon points="674,248.75 719.75,248.75 724,263.75 669.75,263.75" fill="#a9d18e"/>
<text x="621.00" y="259.50" font-size="9" fill="#fff" font-weight="normal" text-anchor="start" textLength="17.50" lengthAdjust="spacingAndGlyphs" >Mux</text>
<text x="688.50" y="260.50" font-size="9" fill="#fff" font-weight="normal" text-anchor="start" textLength="18.20" lengthAdjust="spacingAndGlyphs" >Mux</text>
<polygon points="633.00,223.00 636.50,229.50 629.50,229.50" fill="#000"/>
<polyline points="633.00,247.50 633.00,229.00" fill="none" stroke="#000" stroke-width="2.4" stroke-linejoin="miter" />
<polygon points="699.25,223.00 702.75,229.50 695.75,229.50" fill="#000"/>
<polyline points="699.25,248.75 699.25,229.00" fill="none" stroke="#000" stroke-width="2.4" stroke-linejoin="miter" />
<text x="639.25" y="237.00" font-size="8.6" fill="#111" font-weight="bold" text-anchor="start" textLength="21.70" lengthAdjust="spacingAndGlyphs" >Wr_e</text>
<text x="704.25" y="237.40" font-size="8.6" fill="#111" font-weight="bold" text-anchor="start" textLength="21.00" lengthAdjust="spacingAndGlyphs" >Rd_e</text>
<polyline points="626.00,263.75 626.00,296.70" fill="none" stroke="#000" stroke-width="1.3" stroke-linejoin="miter" />
<polyline points="639.25,263.75 639.25,358.60" fill="none" stroke="#000" stroke-width="1.5" stroke-linejoin="miter" />
<polyline points="681.50,263.75 681.50,296.70" fill="none" stroke="#000" stroke-width="1.3" stroke-linejoin="miter" />
<polyline points="714.75,263.75 714.75,358.60" fill="none" stroke="#000" stroke-width="1.5" stroke-linejoin="miter" />
<polygon points="706.30,296.50 713.30,293.25 713.30,299.75" fill="#000"/>
<polyline points="807.25,296.50 712.80,296.50" fill="none" stroke="#000" stroke-width="2.5" stroke-linejoin="miter" />
<polygon points="663.80,296.70 670.80,293.45 670.80,299.95" fill="#000"/>
<polyline points="688.20,296.70 670.30,296.70" fill="none" stroke="#000" stroke-width="2.5" stroke-linejoin="miter" />
<polygon points="622.50,296.70 629.50,293.45 629.50,299.95" fill="#000"/>
<polyline points="646.70,296.70 629.00,296.70" fill="none" stroke="#000" stroke-width="2.5" stroke-linejoin="miter" />
<polygon points="706.30,358.90 713.30,355.65 713.30,362.15" fill="#000"/>
<polyline points="807.25,358.90 712.80,358.90" fill="none" stroke="#000" stroke-width="2.5" stroke-linejoin="miter" />
<polygon points="638.60,358.80 645.60,355.55 645.60,362.05" fill="#000"/>
<polyline points="688.20,358.80 645.10,358.80" fill="none" stroke="#000" stroke-width="2.5" stroke-linejoin="miter" />
<text x="606.00" y="298.80" font-size="9.6" fill="#f6f9fd" font-weight="normal" text-anchor="start" textLength="15.60" lengthAdjust="spacingAndGlyphs" >Reg</text>
<text x="647.20" y="298.80" font-size="9.6" fill="#f6f9fd" font-weight="normal" text-anchor="start" textLength="15.60" lengthAdjust="spacingAndGlyphs" >Reg</text>
<text x="689.20" y="298.80" font-size="9.6" fill="#f6f9fd" font-weight="normal" text-anchor="start" textLength="15.60" lengthAdjust="spacingAndGlyphs" >Reg</text>
<text x="689.20" y="360.60" font-size="9.6" fill="#f6f9fd" font-weight="normal" text-anchor="start" textLength="15.60" lengthAdjust="spacingAndGlyphs" >Reg</text>
<text x="596.50" y="376.70" font-size="14" fill="#ed7d31" font-weight="normal" text-anchor="start" textLength="89.60" lengthAdjust="spacingAndGlyphs"  stroke="#ed7d31" stroke-width="0.5" stroke-linejoin="round">FIFO Control</text>
<text x="595.25" y="208.00" font-size="15" fill="#ed7d31" font-weight="normal" text-anchor="start" textLength="122.50" lengthAdjust="spacingAndGlyphs"  stroke="#ed7d31" stroke-width="0.35" stroke-linejoin="round">Ping Pong Buffer</text>
<text x="767.50" y="48.70" font-size="15.7" fill="#111" font-weight="normal" text-anchor="start" textLength="72.30" lengthAdjust="spacingAndGlyphs"  stroke="#111" stroke-width="0.42" stroke-linejoin="round">Data Out</text>
<text x="767.30" y="98.00" font-size="16.4" fill="#fb5057" font-weight="normal" text-anchor="start" textLength="75.00" lengthAdjust="spacingAndGlyphs"  stroke="#fb5057" stroke-width="0.3" stroke-linejoin="round">Out Valid</text>
<text x="767.50" y="175.80" font-size="16" fill="#111" font-weight="normal" text-anchor="start" textLength="78.00" lengthAdjust="spacingAndGlyphs"  stroke="#111" stroke-width="0.42" stroke-linejoin="round">PingPong</text>
<text x="767.50" y="197.60" font-size="16" fill="#111" font-weight="normal" text-anchor="start" textLength="60.00" lengthAdjust="spacingAndGlyphs"  stroke="#111" stroke-width="0.42" stroke-linejoin="round">Control</text>
<text x="768.50" y="290.00" font-size="16" fill="#111" font-weight="normal" text-anchor="start" textLength="87.00" lengthAdjust="spacingAndGlyphs"  stroke="#111" stroke-width="0.42" stroke-linejoin="round">Write Zero</text>
<text x="769.00" y="351.20" font-size="16.4" fill="#fb5057" font-weight="normal" text-anchor="start" textLength="82.00" lengthAdjust="spacingAndGlyphs"  stroke="#fb5057" stroke-width="0.3" stroke-linejoin="round">Data Valid</text>
</svg>
</body></html>
